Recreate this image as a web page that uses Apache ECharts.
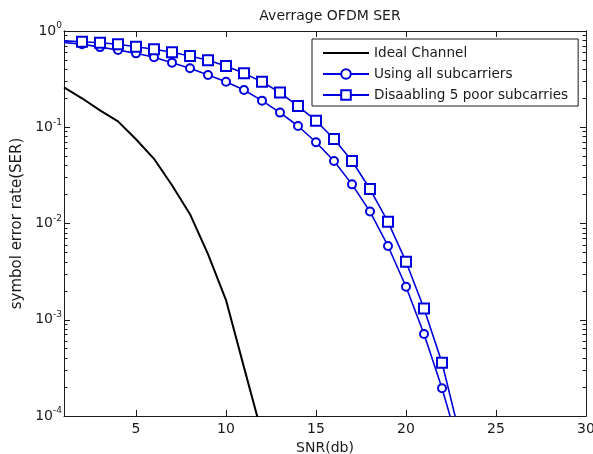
<!DOCTYPE html>
<html>
<head>
<meta charset="utf-8">
<script src="https://cdn.jsdelivr.net/npm/echarts@6/dist/echarts.min.js"></script>
<style>
  html, body { margin: 0; padding: 0; background: #fff; }
  #chart { width: 593px; height: 454px; }
</style>
</head>
<body>
<div id="chart"></div>
<script>
// SNR in dB
const snr = [1, 2, 3, 4, 5, 6, 7, 8, 9, 10, 11, 12, 13, 14, 15, 16, 17, 18, 19, 20, 21, 22, 23]
// ideal channel, SNR 1..12
const idealSer = [0.26, 0.2, 0.15, 0.115, 0.075, 0.047, 0.025, 0.0125, 0.0048, 0.0016, 0.00032, 0.000065]
// using all subcarriers
const allSer = [0.76, 0.73, 0.68, 0.635, 0.586, 0.533, 0.469, 0.41, 0.349, 0.297, 0.244, 0.189,
  0.142, 0.103, 0.0698, 0.0446, 0.0255, 0.0133, 0.00584, 0.0022, 0.00071, 0.000194, 0.000044]
// disabling 5 poor subcarriers
const disSer = [0.79, 0.774, 0.756, 0.727, 0.687, 0.645, 0.601, 0.55, 0.496, 0.433, 0.363, 0.297,
  0.229, 0.166, 0.117, 0.0755, 0.0446, 0.0228, 0.0104, 0.00401, 0.00131, 0.000357, 0.000062]
const xTicks = [5, 10, 15, 20, 25, 30]
const yMajor = [1e-4, 1e-3, 1e-2, 1e-1, 1]
const yMinor = []
yMajor.slice(0, 4).forEach(d => {
  for (let k = 2; k <= 9; k++) yMinor.push(+(d * k).toPrecision(3))
})

const blue = '#0000dd'
const ink = '#1a1a1a'
const font = 'DejaVu Sans, sans-serif'

// marker hidden on first point (x=1), like the original
function toData(vals) {
  return vals.map((v, i) => (i === 0 ? { value: [snr[i], v], symbol: 'none' } : [snr[i], v]))
}

function xAx(pos, labels) {
  return {
    type: 'value', min: 1, max: 30, position: pos,
    name: labels ? 'SNR(db)' : '', nameLocation: 'middle', nameGap: 24,
    nameTextStyle: { color: ink, fontSize: 14, fontFamily: font },
    axisLine: { show: true, onZero: false, lineStyle: { color: ink, width: 1 } },
    axisTick: { show: true, inside: true, length: 6, customValues: xTicks, lineStyle: { color: ink } },
    axisLabel: { show: labels, customValues: xTicks, color: ink, fontSize: 14, fontFamily: font, margin: 6 },
    splitLine: { show: false }
  }
}

function yAx(pos, ticks, len, labels) {
  return {
    type: 'log', logBase: 10, min: 1e-4, max: 1, position: pos,
    name: labels ? 'symbol error rate(SER)' : '', nameLocation: 'middle', nameGap: 33,
    nameTextStyle: { color: ink, fontSize: 15, fontFamily: font },
    axisLine: { show: true, onZero: false, lineStyle: { color: ink, width: 1 } },
    axisTick: { show: true, inside: true, length: len, customValues: ticks, lineStyle: { color: ink } },
    axisLabel: {
      show: labels, customValues: yMajor, margin: 2,
      formatter: v => '{b|10}{s|' + Math.round(Math.log10(v)) + '}',
      rich: {
        b: { fontSize: 14, fontFamily: font, color: ink },
        s: { fontSize: 9, fontFamily: font, color: ink, padding: [0, 0, 10, 0] }
      }
    },
    splitLine: { show: false }
  }
}

const chart = echarts.init(document.getElementById('chart'))
chart.setOption({
  animation: false,
  backgroundColor: '#fff',
  title: {
    text: 'Averrage OFDM SER', left: 325, top: 4, textAlign: 'center',
    textStyle: { fontSize: 14, fontWeight: 'normal', color: ink, fontFamily: font }
  },
  grid: { left: 64, top: 31, right: 7, bottom: 38, outerBoundsMode: 'none' },
  legend: {
    orient: 'vertical', left: 312, top: 39,
    backgroundColor: '#fff', borderColor: ink, borderWidth: 1, borderRadius: 0,
    padding: [7, 10, 4, 10], itemGap: 7, itemWidth: 46, itemHeight: 12,
    textStyle: { fontSize: 13.6, color: ink, fontFamily: font, lineHeight: 14 },
    data: [
      { name: 'Ideal Channel', itemStyle: { opacity: 0 } },
      'Using all subcarriers',
      'Disaabling 5 poor subcarries'
    ]
  },
  xAxis: [xAx('bottom', true), xAx('top', false)],
  yAxis: [
    yAx('left', yMajor, 6, true),
    yAx('right', yMajor, 6, false),
    yAx('left', yMinor, 3.5, false),
    yAx('right', yMinor, 3.5, false)
  ],
  series: [
    {
      name: 'Ideal Channel', type: 'line', symbol: 'none', clip: true,
      lineStyle: { color: '#000', width: 2 }, itemStyle: { color: '#000' },
      data: idealSer.map((v, i) => [snr[i], v])
    },
    {
      name: 'Using all subcarriers', type: 'line', symbol: 'emptyCircle', symbolSize: 8, clip: true,
      lineStyle: { color: blue, width: 1.6 }, itemStyle: { color: blue, borderWidth: 1.6 },
      data: toData(allSer)
    },
    {
      name: 'Disaabling 5 poor subcarries', type: 'line', symbol: 'emptyRect', symbolSize: 10, clip: true,
      lineStyle: { color: blue, width: 1.6 }, itemStyle: { color: blue, borderWidth: 1.6 },
      data: toData(disSer)
    }
  ]
})
</script>
</body>
</html>
